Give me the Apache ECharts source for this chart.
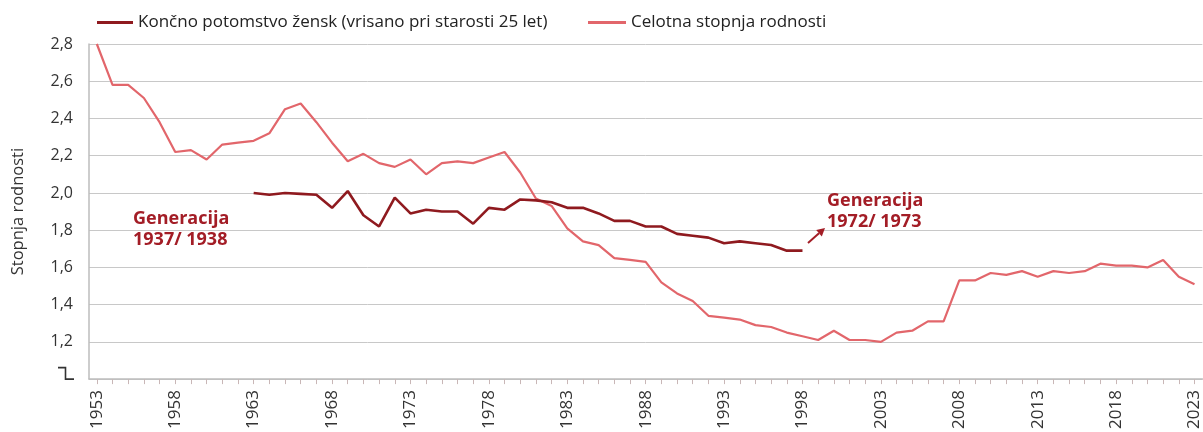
<!DOCTYPE html>
<html>
<head>
<meta charset="utf-8">
<script src="https://cdn.jsdelivr.net/npm/echarts@6/dist/echarts.min.js"></script>
<style>
html,body{margin:0;padding:0;background:#fff;}
#c{width:1203px;height:432px;}
</style>
</head>
<body>
<div id="c"></div>
<script>
// Years 1953–2023
const firstYear = 1953;
const lastYear = 2023;
const years = [];
for (let y = firstYear; y <= lastYear; y++) years.push(String(y));

// Celotna stopnja rodnosti (total fertility rate), 1953–2023
const tfr = [
  2.80, 2.58, 2.58, 2.51, 2.38, 2.22, 2.23, 2.18, 2.26, 2.27,
  2.28, 2.32, 2.45, 2.48, 2.38, 2.27, 2.17, 2.21, 2.16, 2.14,
  2.18, 2.10, 2.16, 2.17, 2.16, 2.19, 2.22, 2.11, 1.97, 1.93,
  1.81, 1.74, 1.72, 1.65, 1.64, 1.63, 1.52, 1.46, 1.42, 1.34,
  1.33, 1.32, 1.29, 1.28, 1.25, 1.23, 1.21, 1.26, 1.21, 1.21,
  1.20, 1.25, 1.26, 1.31, 1.31, 1.53, 1.53, 1.57, 1.56, 1.58,
  1.55, 1.58, 1.57, 1.58, 1.62, 1.61, 1.61, 1.60, 1.64, 1.55,
  1.51
];

// Končno potomstvo žensk (plotted at age 25), 1963–1998
const cfrStartYear = 1963;
const cfr = [
  2.00, 1.99, 2.00, 1.995, 1.99, 1.92, 2.01, 1.88, 1.82, 1.975,
  1.89, 1.91, 1.90, 1.90, 1.835, 1.92, 1.91, 1.965, 1.96, 1.95,
  1.92, 1.92, 1.89, 1.85, 1.85, 1.82, 1.82, 1.78, 1.77, 1.76,
  1.73, 1.74, 1.73, 1.72, 1.69, 1.69
];

const seriesNames = ['Končno potomstvo žensk (vrisano pri starosti 25 let)', 'Celotna stopnja rodnosti'];
const yTicks = [1.0, 1.2, 1.4, 1.6, 1.8, 2.0, 2.2, 2.4, 2.6, 2.8];

const cfrData = years.map(y => {
  const i = Number(y) - cfrStartYear;
  return (i >= 0 && i < cfr.length) ? cfr[i] : null;
});

const DARK = '#8f1a1f';
const LIGHT = '#e2666b';
const ANN = '#a31d26';
const FONT = 'Open Sans';

const chart = echarts.init(document.getElementById('c'), null, {renderer: 'canvas'});

const option = {
  backgroundColor: '#fff',
  animation: false,
  textStyle: {fontFamily: FONT},
  legend: [
    {
      left: 92, top: 9, itemWidth: 36, itemHeight: 3, icon: 'rect', itemGap: 5,
      data: [seriesNames[0]],
      textStyle: {fontFamily: FONT, fontSize: 17, color: '#222'}
    },
    {
      left: 583, top: 9, itemWidth: 38, itemHeight: 3, icon: 'rect',
      data: [seriesNames[1]],
      textStyle: {fontFamily: FONT, fontSize: 17, color: '#222'}
    }
  ],
  grid: {left: 89, right: 0, top: 44, bottom: 51, containLabel: false},
  xAxis: {
    type: 'category',
    data: years,
    boundaryGap: true,
    axisLine: {show: true, lineStyle: {color: '#bdbdbd', width: 1.5}},
    axisTick: {show: true, alignWithLabel: true, interval: 0, length: 5, lineStyle: {color: '#c9b7b7'}},
    axisLabel: {interval: 4, rotate: 90, fontFamily: FONT, fontSize: 17, color: '#333', margin: 11}
  },
  yAxis: {
    type: 'value',
    min: 1.0, max: 2.8, interval: 0.2,
    name: 'Stopnja rodnosti',
    nameLocation: 'middle',
    nameGap: 62,
    nameRotate: 90,
    nameTextStyle: {fontFamily: FONT, fontSize: 16.5, color: '#333'},
    axisLine: {show: true, lineStyle: {color: '#bdbdbd', width: 1.5}},
    axisTick: {show: false},
    splitLine: {show: true, lineStyle: {color: '#c8c8c8', width: 1}},
    axisLabel: {
      fontFamily: FONT, fontSize: 16, color: '#333', margin: 16,
      formatter: v => {
        const t = yTicks.find(k => Math.abs(k - v) < 1e-6);
        if (t === undefined || Math.abs(t - yTicks[0]) < 1e-6) return '';
        return t.toFixed(1).replace('.', ',');
      }
    }
  },
  series: [
    {
      name: seriesNames[0], type: 'line', data: cfrData,
      showSymbol: false, symbol: 'none', connectNulls: false,
      lineStyle: {color: DARK, width: 2.6}, itemStyle: {color: DARK}, z: 3
    },
    {
      name: seriesNames[1], type: 'line', data: tfr,
      showSymbol: false, symbol: 'none',
      lineStyle: {color: LIGHT, width: 2.2}, itemStyle: {color: LIGHT}, z: 2
    }
  ]
};
chart.setOption(option);

// axis break symbol at the bottom of the y axis
const yBase = chart.convertToPixel({yAxisIndex: 0}, yTicks[0]);
const yTopBreak = yBase - 11.5;
chart.setOption({
  graphic: [
    {
      type: 'polyline', silent: true,
      shape: {points: [[58, yTopBreak], [65.5, yTopBreak], [65.5, yBase], [74, yBase]]},
      style: {stroke: '#333', lineWidth: 1.6, fill: null}
    },
    {
      type: 'text', left: 133, top: 208,
      style: {text: 'Generacija\n1937/ 1938', fill: ANN, font: 'bold 18px ' + FONT, lineHeight: 21}
    },
    {
      type: 'text', left: 827, top: 190,
      style: {text: 'Generacija\n1972/ 1973', fill: ANN, font: 'bold 18px ' + FONT, lineHeight: 21}
    },
    {
      type: 'line', silent: true,
      shape: {x1: 808, y1: 243, x2: 819, y2: 233.3},
      style: {stroke: ANN, lineWidth: 2}
    },
    {
      type: 'polygon', silent: true,
      shape: {points: [[825, 228], [816.2, 230], [821.8, 236.5]]},
      style: {fill: ANN}
    }
  ]
});
</script>
</body>
</html>
